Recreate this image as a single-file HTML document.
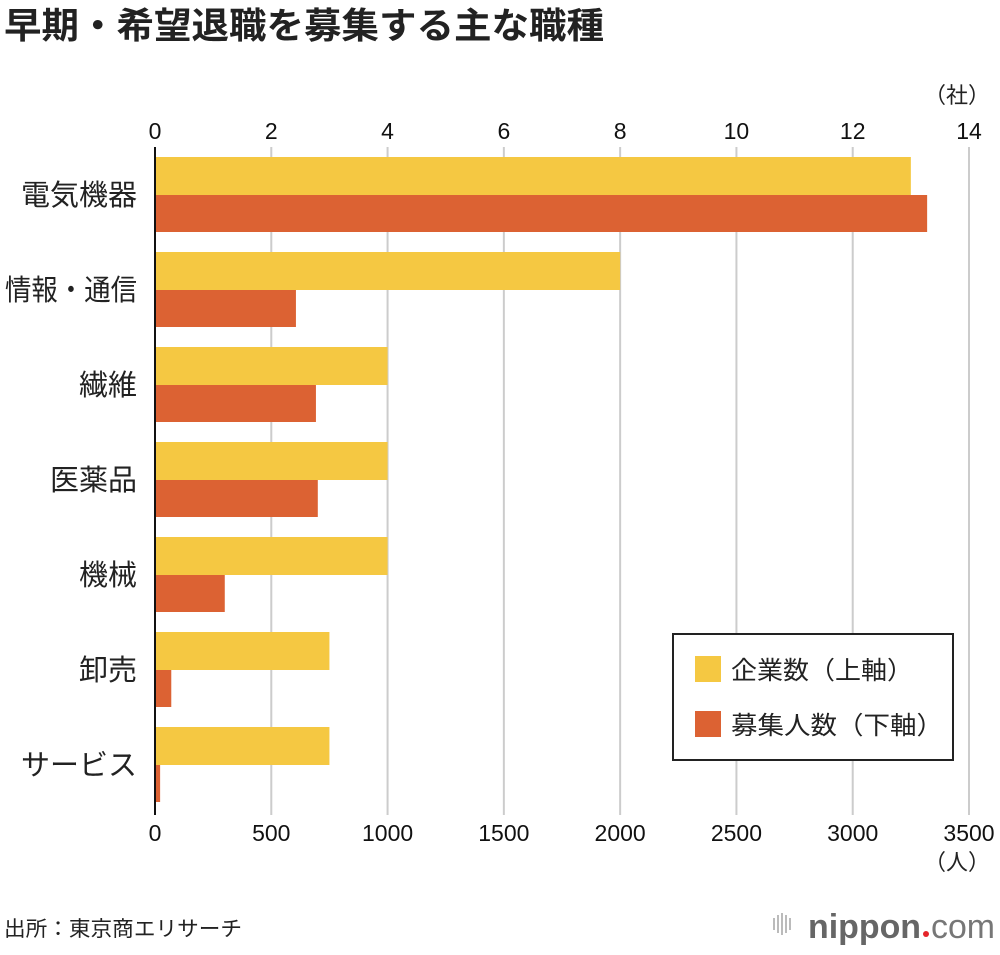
<!DOCTYPE html>
<html><head><meta charset="utf-8"><style>
body{margin:0;background:#fff;font-family:"Liberation Sans","Noto Sans CJK JP",sans-serif;}
svg text{font-family:"Liberation Sans","Noto Sans CJK JP",sans-serif;}
</style></head><body>
<svg id="c" width="1000" height="950" xmlns="http://www.w3.org/2000/svg">
<text x="4" y="38" font-size="36" font-weight="bold" fill="#222" textLength="600" lengthAdjust="spacingAndGlyphs">早期・希望退職を募集する主な職種</text>
<text x="990" y="103" font-size="22" text-anchor="end" fill="#222">（社）</text>
<text x="990" y="870" font-size="22" text-anchor="end" fill="#222">（人）</text>
<g id="grid"></g><g id="bars"></g><g id="labels"></g>
<line x1="155" y1="147" x2="155" y2="815" stroke="#111" stroke-width="2"/>
<g>
<rect x="673" y="634" width="280" height="126" fill="#fff" stroke="#222" stroke-width="2"/>
<rect x="695" y="656" width="26" height="26" fill="#f5c842"/>
<text x="731" y="679" font-size="25" fill="#222" textLength="182" lengthAdjust="spacingAndGlyphs">企業数（上軸）</text>
<rect x="695" y="711" width="26" height="26" fill="#dc6233"/>
<text x="731" y="734" font-size="25" fill="#222" textLength="212" lengthAdjust="spacingAndGlyphs">募集人数（下軸）</text>
</g>
<text x="4" y="936" font-size="21" fill="#222" textLength="238" lengthAdjust="spacingAndGlyphs">出所：東京商エリサーチ</text>
<g>
<rect x="773" y="918" width="2" height="12" fill="#bbb"/><rect x="777" y="915" width="2" height="18" fill="#bbb"/><rect x="781" y="913" width="2" height="22" fill="#bbb"/><rect x="785" y="915" width="2" height="18" fill="#bbb"/><rect x="789" y="918" width="2" height="12" fill="#bbb"/>
<text x="808" y="938" font-size="34" fill="#666" font-weight="bold" textLength="113" lengthAdjust="spacingAndGlyphs">nippon</text>
<circle cx="926" cy="934" r="3" fill="#e5252a"/>
<text x="931" y="938" font-size="34" fill="#777" textLength="64" lengthAdjust="spacingAndGlyphs">com</text>
</g>
</svg>
<script>
const categories=["電気機器","情報・通信","繊維","医薬品","機械","卸売","サービス"];
const companies=[13,8,4,4,4,3,3];
const recruits=[3320,606,692,700,300,70,22];
const topTicks=[0,2,4,6,8,10,12,14];
const bottomTicks=[0,500,1000,1500,2000,2500,3000,3500];
const NS="http://www.w3.org/2000/svg";
const x0=155,x1=969;
const xTop=v=>x0+v/14*(x1-x0);
const xBot=v=>x0+v/3500*(x1-x0);
const rowY=i=>157+i*95;
function mk(t,a,p){const e=document.createElementNS(NS,t);for(const k in a)e.setAttribute(k,a[k]);p.appendChild(e);return e;}
const g=document.getElementById('grid'),b=document.getElementById('bars'),l=document.getElementById('labels');
topTicks.forEach((v,i)=>{const x=xTop(v);
 if(i>0){const ln=mk('line',{x1:x,y1:147,x2:x,y2:815,stroke:'#ccc','stroke-width':2},g);
 
 }
 const t=mk('text',{x:x,y:139,'font-size':23,'text-anchor':'middle',fill:'#111'},l);t.textContent=v;
 
 });
bottomTicks.forEach(v=>{const t=mk('text',{x:xBot(v),y:841,'font-size':23,'text-anchor':'middle',fill:'#111'},l);t.textContent=v;
 
 });
categories.forEach((c,i)=>{const y=rowY(i);
 const r1=mk('rect',{x:x0,y:y,width:xTop(companies[i])-x0,height:38,fill:'#f5c842'},b);
 
 
 const r2=mk('rect',{x:x0,y:y+38,width:xBot(recruits[i])-x0,height:37,fill:'#dc6233'},b);
 
 
 const t=mk('text',{x:137,y:y+48,'font-size':29,'text-anchor':'end',fill:'#222'},l);t.textContent=c;
 if(c.includes('・')){t.setAttribute('textLength','132');t.setAttribute('lengthAdjust','spacingAndGlyphs');}
 
 });
</script>
</body></html>
